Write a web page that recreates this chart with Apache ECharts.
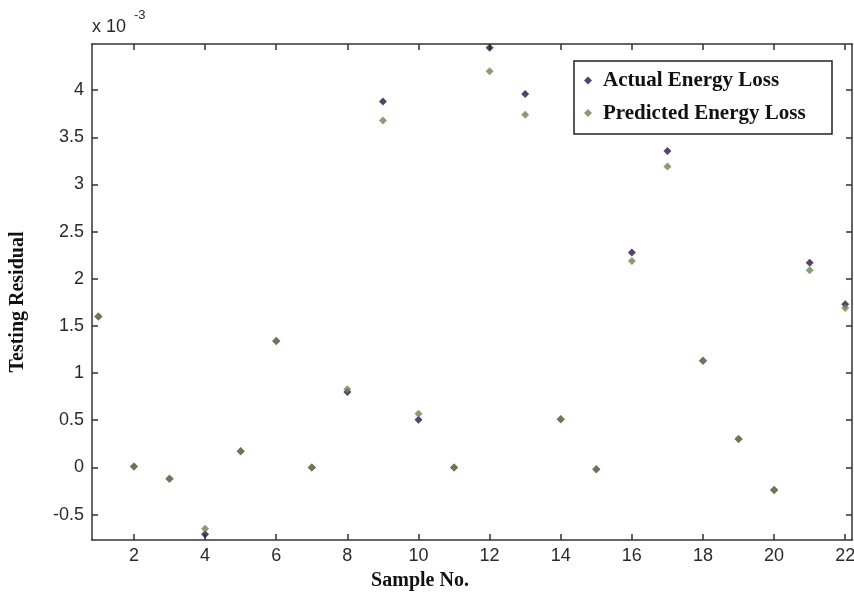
<!DOCTYPE html>
<html>
<head>
<meta charset="utf-8">
<script src="https://cdn.jsdelivr.net/npm/echarts@6/dist/echarts.min.js"></script>
<style>html,body{margin:0;padding:0;background:#fff;}#c{width:854px;height:598px;}</style>
</head>
<body>
<div id="c"></div>
<script>
// Sample numbers
var samples = [1,2,3,4,5,6,7,8,9,10,11,12,13,14,15,16,17,18,19,20,21,22];
// Testing residual values, in units of 1e-3
var actualLoss = [1.60,0.01,-0.12,-0.71,0.17,1.34,0.00,0.80,3.88,0.505,0.00,4.45,3.96,0.51,-0.02,2.28,3.355,1.13,0.30,-0.24,2.17,1.73];
var predictedLoss = [1.60,0.01,-0.12,-0.65,0.17,1.34,0.00,0.83,3.68,0.57,0.00,4.20,3.74,0.51,-0.02,2.19,3.19,1.13,0.30,-0.24,2.09,1.69];
var xTicks = [2,4,6,8,10,12,14,16,18,20,22];
var yTicks = [-0.5,0,0.5,1,1.5,2,2.5,3,3.5,4];
var seriesNames = ['Actual Energy Loss','Predicted Energy Loss'];

var chart = echarts.init(document.getElementById('c'));
function pairs(vals){ return samples.map(function(s,i){ return [s, vals[i]]; }); }
var tickFont = {fontFamily:'Liberation Sans, Arial, sans-serif', fontSize:18, color:'#2a2a2a'};
var axisLine = {show:true, onZero:false, lineStyle:{color:'#333', width:1.5}};
var serif = 'Liberation Serif, Times New Roman, serif';
function fmtY(v){ return String(Math.round(v*10)/10); }

chart.setOption({
  animation:false,
  backgroundColor:'#fff',
  grid:{left:92, right:2, top:44, bottom:58, containLabel:false, outerBoundsMode:'none'},
  xAxis:[
    {type:'value', min:0.82, max:22.19, position:'bottom', axisLine:axisLine,
     splitLine:{show:false},
     axisTick:{show:true, inside:true, length:6, customValues:xTicks, lineStyle:{color:'#333', width:1.5}},
     axisLabel:Object.assign({show:true, margin:7, customValues:xTicks, formatter:function(v){return String(v);}}, tickFont)},
    {type:'value', min:0.82, max:22.19, position:'top', axisLine:axisLine,
     splitLine:{show:false},
     axisTick:{show:true, inside:true, length:6, customValues:xTicks, lineStyle:{color:'#333', width:1.5}},
     axisLabel:{show:false}}
  ],
  yAxis:[
    {type:'value', min:-0.77, max:4.49, position:'left', axisLine:axisLine,
     splitLine:{show:false},
     axisTick:{show:true, inside:true, length:6, customValues:yTicks, lineStyle:{color:'#333', width:1.5}},
     axisLabel:Object.assign({show:true, margin:8, customValues:yTicks, formatter:fmtY}, tickFont)},
    {type:'value', min:-0.77, max:4.49, position:'right', axisLine:axisLine,
     splitLine:{show:false},
     axisTick:{show:true, inside:true, length:6, customValues:yTicks, lineStyle:{color:'#333', width:1.5}},
     axisLabel:{show:false}}
  ],
  legend:{
    orient:'vertical', left:584, top:70, padding:0, itemGap:11.6,
    itemWidth:8, itemHeight:8, icon:'diamond',
    textStyle:{fontFamily:serif, fontWeight:'bold', fontSize:21, color:'#111', padding:[0,0,0,6]},
    data:seriesNames
  },
  graphic:[
    {type:'rect', z:3, shape:{x:574, y:61, width:258, height:73}, style:{fill:'#fff', stroke:'#222', lineWidth:1.5}},
    {type:'text', x:18, y:302, rotation:Math.PI/2, style:{text:'Testing Residual', font:'bold 20px '+serif, fill:'#111', align:'center', verticalAlign:'middle'}},
    {type:'text', x:420, y:581, style:{text:'Sample No.', font:'bold 20px '+serif, fill:'#111', align:'center', verticalAlign:'middle'}},
    {type:'text', x:92, y:36, style:{text:'x 10', font:'18px Liberation Sans, Arial, sans-serif', fill:'#2a2a2a', align:'left', verticalAlign:'bottom'}},
    {type:'text', x:134, y:22, style:{text:'-3', font:'13px Liberation Sans, Arial, sans-serif', fill:'#2a2a2a', align:'left', verticalAlign:'bottom'}}
  ],
  series:[
    {name:seriesNames[0], type:'scatter', xAxisIndex:0, yAxisIndex:0, symbol:'diamond', symbolSize:8,
     itemStyle:{color:'#2e1145'}, data:pairs(actualLoss)},
    {name:seriesNames[1], type:'scatter', xAxisIndex:0, yAxisIndex:0, symbol:'diamond', symbolSize:8,
     itemStyle:{color:'#6c8750'}, data:pairs(predictedLoss)}
  ]
});
</script>
</body>
</html>
